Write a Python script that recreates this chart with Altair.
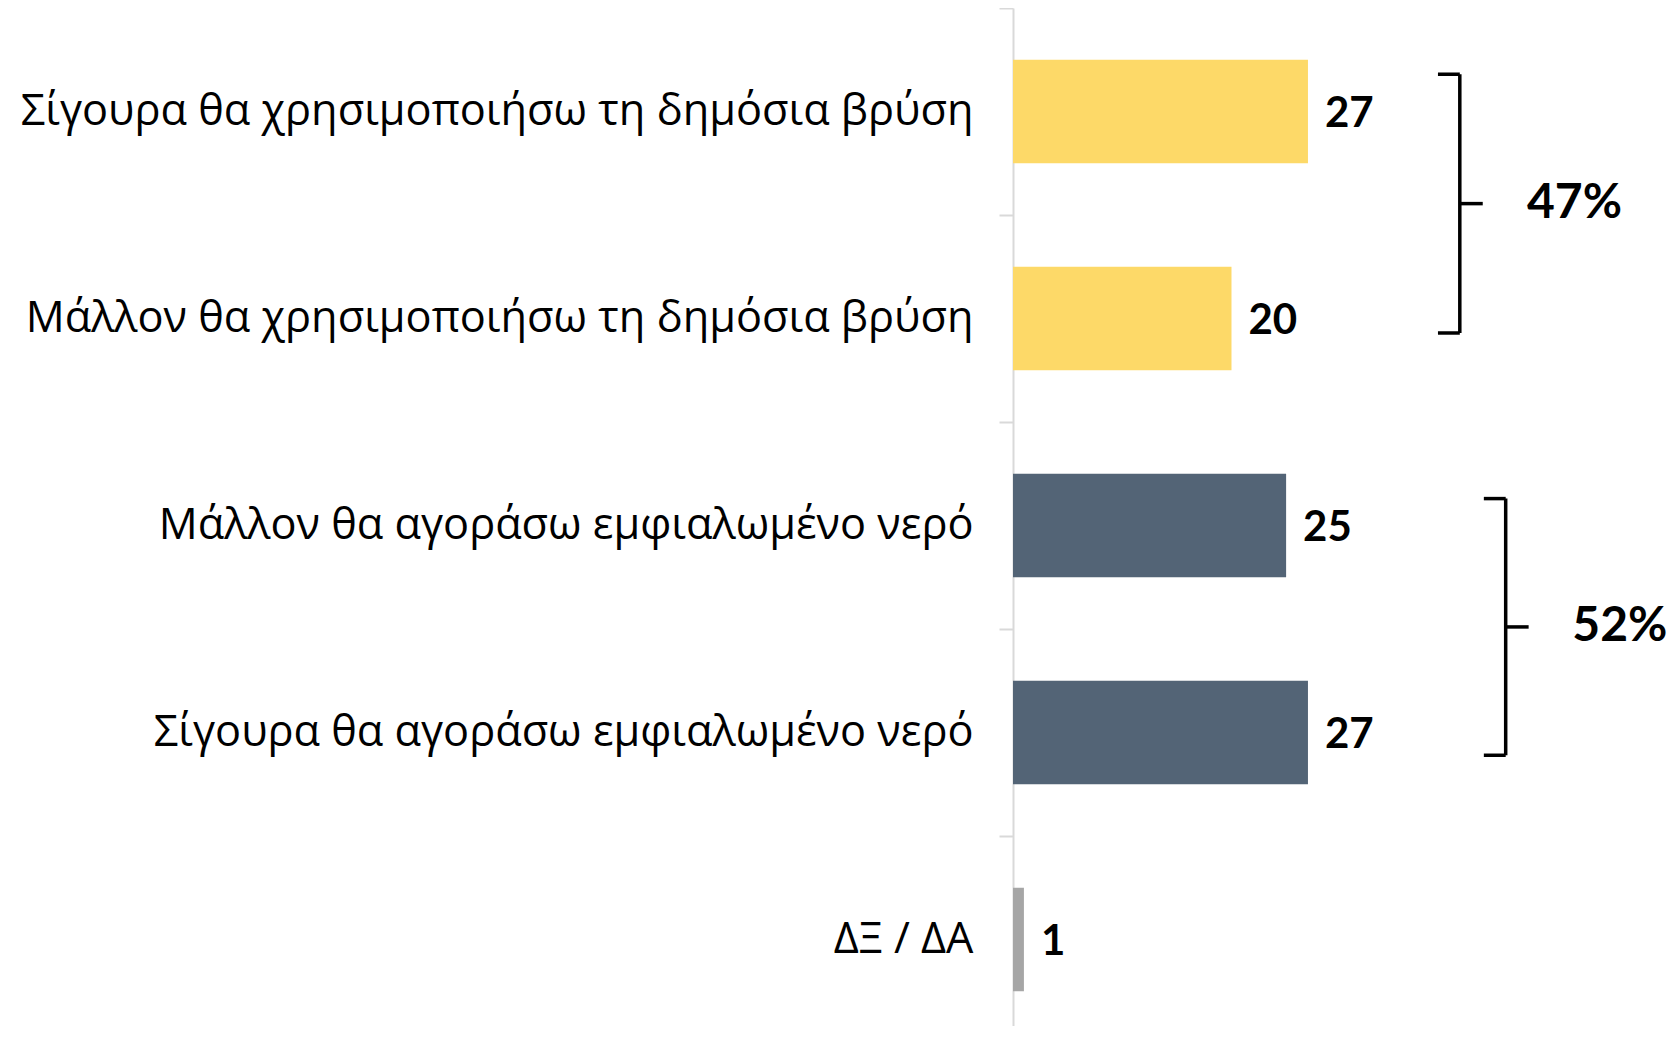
import altair as alt
import pandas as pd

categories = [
    "Σίγουρα θα χρησιμοποιήσω τη δημόσια βρύση",
    "Μάλλον θα χρησιμοποιήσω τη δημόσια βρύση",
    "Μάλλον θα αγοράσω εμφιαλωμένο νερό",
    "Σίγουρα θα αγοράσω εμφιαλωμένο νερό",
    "ΔΞ / ΔΑ",
]
values = [27, 20, 25, 27, 1]
bar_colors = ["#FDD968", "#FDD968", "#536476", "#536476", "#A6A6A6"]

# Bracket annotations (y in band units from the top, x in value units)
bracket_labels = ["47%", "52%"]
bracket_top = [0.32, 2.37]
bracket_bottom = [1.57, 3.61]
bracket_x = [40.9, 45.1]
bracket_arm = [2.0, 2.0]
bracket_tick = [2.1, 2.1]
bracket_label_x = [47.05, 51.2]

BAND = 207
N = len(categories)
XMAX = 59.5

df = pd.DataFrame({"cat": categories, "value": values})

segs = []
lab = []
for i, name in enumerate(bracket_labels):
    x, t, b = bracket_x[i], bracket_top[i], bracket_bottom[i]
    m = (t + b) / 2
    segs += [
        {"x1": x, "x2": x, "y1": t, "y2": b},
        {"x1": x - bracket_arm[i], "x2": x, "y1": t, "y2": t},
        {"x1": x - bracket_arm[i], "x2": x, "y1": b, "y2": b},
        {"x1": x, "x2": x + bracket_tick[i], "y1": m, "y2": m},
    ]
    lab.append({"x": bracket_label_x[i], "y": m, "label": name})
seg_df = pd.DataFrame(segs)
lab_df = pd.DataFrame(lab)

xscale = alt.Scale(domain=[0, XMAX], nice=False, zero=True)
yband = alt.Scale(domain=categories, range=[0, BAND * N], paddingInner=0, paddingOuter=0)
yq = alt.Scale(domain=[0, N], range=[0, BAND * N], nice=False, zero=False)

bars = alt.Chart(df).mark_bar(height=alt.RelativeBandSize(0.5)).encode(
    y=alt.Y("cat:N", sort=categories, scale=yband, title=None,
            axis=alt.Axis(labelFont="Open Sans", labelFontSize=43.3, labelColor="#000000",
                          labelLimit=1000, labelPadding=26, tickBand="extent",
                          tickSize=14, tickWidth=2, tickColor="#D9D9D9",
                          domainColor="#D9D9D9", domainWidth=2, grid=False)),
    x=alt.X("value:Q", scale=xscale, axis=None),
    color=alt.Color("cat:N", scale=alt.Scale(domain=categories, range=bar_colors), legend=None),
)

texts = alt.Chart(df).mark_text(align="left", baseline="middle", dx=17, dy=2, font="Lato",
                                fontSize=42, fontWeight="bold", color="#000000").encode(
    y=alt.Y("cat:N", sort=categories, scale=yband, axis=None),
    x=alt.X("value:Q", scale=xscale, axis=None),
    text=alt.Text("value:Q"),
)

rules = alt.Chart(seg_df).mark_rule(color="#000000", strokeWidth=3.5).encode(
    x=alt.X("x1:Q", scale=xscale, axis=None),
    x2="x2:Q",
    y=alt.Y("y1:Q", scale=yq, axis=None),
    y2="y2:Q",
)

rtext = alt.Chart(lab_df).mark_text(align="left", baseline="middle", font="Lato",
                                    fontSize=48, fontWeight="bold", color="#000000").encode(
    x=alt.X("x:Q", scale=xscale, axis=None),
    y=alt.Y("y:Q", scale=yq, axis=None),
    text="label:N",
)

chart = alt.layer(bars, texts, rules, rtext).resolve_scale(y="independent").properties(
    width=650, height=1018,
    background="#FFFFFF",
    autosize=alt.AutoSizeParams(type="none"),
    padding={"left": 1005, "top": 0, "right": 5, "bottom": 0},
).configure_view(stroke=None)

chart.save("out.html", embed_options={"renderer": "svg", "actions": False})
